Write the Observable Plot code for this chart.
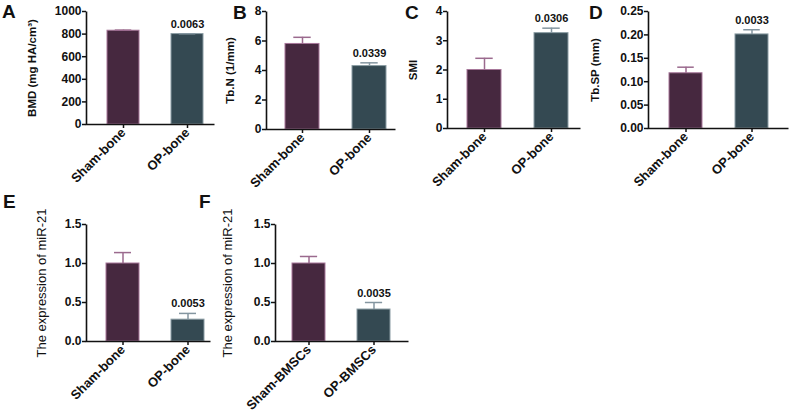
<!DOCTYPE html>
<html>
<head>
<meta charset="utf-8">
<script src="https://cdn.jsdelivr.net/npm/d3@7"></script>
<script src="https://cdn.jsdelivr.net/npm/@observablehq/plot@0.6"></script>
<style>
  html, body { margin: 0; padding: 0; background: #fff; }
  #root { position: relative; width: 792px; height: 419px; overflow: hidden; font-family: "Liberation Sans", Arial, sans-serif; }
  .panel { position: absolute; }
  .letter { position: absolute; font-size: 19px; font-weight: bold; line-height: 19px; color: #111; }
</style>
</head>
<body>
<div id="root"></div>
<script>
// ---- data ----
const boneGroups = ["Sham-bone", "OP-bone"];
const bmscGroups = ["Sham-BMSCs", "OP-BMSCs"];

const bmdMean = [830, 800];
const bmdErr = [5, 3];
const tbnMean = [5.8, 4.3];
const tbnErr = [0.45, 0.22];
const smiMean = [2.0, 3.26];
const smiErr = [0.4, 0.17];
const tbspMean = [0.118, 0.201];
const tbspErr = [0.013, 0.01];
const mirBoneMean = [1.0, 0.28];
const mirBoneErr = [0.14, 0.08];
const mirBmscMean = [1.0, 0.41];
const mirBmscErr = [0.09, 0.09];

const pValues = ["0.0063", "0.0339", "0.0306", "0.0033", "0.0053", "0.0035"];
const panelLetters = ["A", "B", "C", "D", "E", "F"];
const yLabels = ["BMD (mg HA/cm³)", "Tb.N (1/mm)", "SMI", "Tb.SP (mm)",
                 "The expression of miR-21", "The expression of miR-21"];
const ticksA = [0, 200, 400, 600, 800, 1000];
const ticksB = [0, 2, 4, 6, 8];
const ticksC = [0, 1, 2, 3, 4];
const ticksD = [0, 0.05, 0.10, 0.15, 0.20, 0.25];
const ticksEF = [0, 0.5, 1.0, 1.5];

// ---- styles ----
const shamFill = "#46283f", shamStroke = "#a7779a", shamErr = "#9b6a8e";
const opFill = "#344952", opStroke = "#8a9ca3", opErr = "#8496a0";
const font = "'Liberation Sans', Arial, sans-serif";

// ---- layout (page px) ----
const panels = [
  {cats: boneGroups, mean: bmdMean, err: bmdErr, ticks: ticksA, fmt: d3.format("d"),
   left: 0, top: 0, width: 225, height: 200, mL: 86, mR: 11, mT: 11, mB: 76,
   po: 0.235, align: 0.66, labOff: 59, labBold: true, labSize: 11.5, letterX: 2, letterY: 2},
  {cats: boneGroups, mean: tbnMean, err: tbnErr, ticks: ticksB, fmt: d3.format("d"),
   left: 190, top: 0, width: 210, height: 200, mL: 76, mR: 5, mT: 11, mB: 71,
   po: 0.21, align: 0.67, labOff: 41, labBold: true, labSize: 11.5, letterX: 233, letterY: 3},
  {cats: boneGroups, mean: smiMean, err: smiErr, ticks: ticksC, fmt: d3.format("d"),
   left: 395, top: 0, width: 195, height: 200, mL: 52, mR: 10, mT: 11, mB: 72,
   po: 0.24, align: 0.62, labOff: 39, labBold: true, labSize: 11.5, letterX: 405, letterY: 3},
  {cats: boneGroups, mean: tbspMean, err: tbspErr, ticks: ticksD, fmt: d3.format(".2f"),
   left: 580, top: 0, width: 212, height: 200, mL: 68, mR: 4, mT: 11, mB: 72,
   po: 0.295, align: 0.5, labOff: 58, labBold: true, labSize: 11.5, letterX: 589, letterY: 3},
  {cats: boneGroups, mean: mirBoneMean, err: mirBoneErr, ticks: ticksEF, fmt: d3.format(".1f"),
   left: 0, top: 200, width: 220, height: 219, mL: 86, mR: 10, mT: 24, mB: 78,
   po: 0.19, align: 0.76, labOff: 50, labBold: false, labSize: 13, letterX: 3, letterY: 192},
  {cats: bmscGroups, mean: mirBmscMean, err: mirBmscErr, ticks: ticksEF, fmt: d3.format(".1f"),
   left: 195, top: 200, width: 220, height: 219, mL: 80, mR: 7, mT: 24, mB: 78,
   po: 0.265, align: 0.49, labOff: 53, labBold: false, labSize: 13, letterX: 199, letterY: 192}
];

const root = document.getElementById("root");

panels.forEach((p, k) => {
  const rows = p.cats.map((c, i) => ({group: c, mean: p.mean[i], hi: p.mean[i] + p.err[i]}));
  const sham = [rows[0]], op = [rows[1]];
  const W = p.width - p.mL - p.mR, H = p.height - p.mT - p.mB;
  const yMax = p.ticks[p.ticks.length - 1];
  const step = W / (2 - 0.5 + 2 * p.po);
  const bw = step * 0.5;
  const capInset = Math.max(0, (bw - 17) / 2);

  const chart = Plot.plot({
    width: p.width, height: p.height,
    marginLeft: p.mL, marginRight: p.mR, marginTop: p.mT, marginBottom: p.mB,
    style: {background: "none", fontFamily: font, fontWeight: "bold", fontSize: "12px", color: "#111", overflow: "visible"},
    x: {domain: p.cats, paddingInner: 0.5, paddingOuter: p.po, align: p.align, label: null},
    y: {domain: [0, yMax], label: null},
    marks: [
      Plot.barY(sham, {x: "group", y: "mean", fill: shamFill, stroke: shamStroke, strokeWidth: 1}),
      Plot.barY(op, {x: "group", y: "mean", fill: opFill, stroke: opStroke, strokeWidth: 1}),
      Plot.ruleX(sham, {x: "group", y1: "mean", y2: "hi", stroke: shamErr, strokeWidth: 1.5}),
      Plot.ruleX(op, {x: "group", y1: "mean", y2: "hi", stroke: opErr, strokeWidth: 1.5}),
      Plot.tickY(sham, {x: "group", y: "hi", stroke: shamErr, strokeWidth: 1.5, insetLeft: capInset, insetRight: capInset}),
      Plot.tickY(op, {x: "group", y: "hi", stroke: opErr, strokeWidth: 1.5, insetLeft: capInset, insetRight: capInset}),
      Plot.text(op, {x: "group", y: "hi", text: () => pValues[k], dy: -6, lineAnchor: "bottom",
                     fontSize: 11, fontWeight: "bold", fill: "#111"}),
      Plot.frame({stroke: "#111", strokeWidth: 1.6, strokeDasharray: `0 ${W + H} ${W + H}`}),
      Plot.axisY({ticks: p.ticks, tickFormat: p.fmt, tickSize: 4, tickPadding: 1, label: null,
                  fontSize: 12, fontWeight: "bold", strokeWidth: 1.5, stroke: "#111"}),
      Plot.axisX({tickRotate: -45, tickSize: 4, tickPadding: 2, label: null,
                  fontSize: 13, fontWeight: "bold", strokeWidth: 1.5, stroke: "#111"}),
      Plot.text([yLabels[k]], {frameAnchor: "left", rotate: -90, dx: -p.labOff, lineAnchor: "top",
                  textAnchor: "middle", text: d => d, fontSize: p.labSize,
                  fontWeight: p.labBold ? "bold" : "normal", fill: "#111"})
    ]
  });
  chart.classList.add("panel");
  chart.style.left = p.left + "px";
  chart.style.top = p.top + "px";
  root.appendChild(chart);

  const L = document.createElement("div");
  L.className = "letter";
  L.textContent = panelLetters[k];
  L.style.left = p.letterX + "px";
  L.style.top = p.letterY + "px";
  root.appendChild(L);
});
</script>
</body>
</html>
